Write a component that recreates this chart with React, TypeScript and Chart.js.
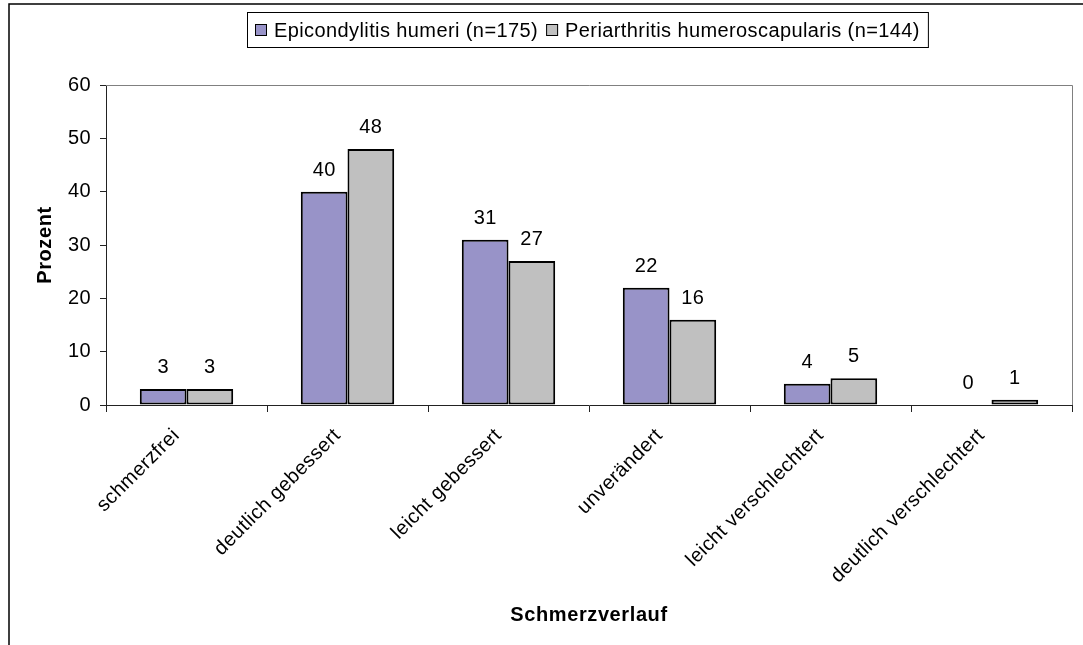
import React, { useEffect, useRef } from "react";
import { Chart, registerables } from "chart.js";

Chart.register(...registerables);

// ---- data ----
const categories = [
  "schmerzfrei",
  "deutlich gebessert",
  "leicht gebessert",
  "unverändert",
  "leicht verschlechtert",
  "deutlich verschlechtert",
];
const seriesNames = [
  "Epicondylitis humeri (n=175)",
  "Periarthritis humeroscapularis (n=144)",
];
const epicondylitis = [3, 40, 31, 22, 4, 0];
const periarthritis = [3, 48, 27, 16, 5, 1];
const yMin = 0;
const yMax = 60;
const yStep = 10;
const xTitle = "Schmerzverlauf";
const yTitle = "Prozent";

// ---- style ----
const FONT = 'Arial, "Liberation Sans", sans-serif';
const SPACING = "0.4px";
const FS = 20;
const COLORS = ["#9893c8", "#c0c0c0"];

const decor = {
  id: "decor",
  beforeUpdate(chart: any) {
    chart.ctx.letterSpacing = SPACING;
  },
  beforeDraw(chart: any) {
    const ctx = chart.ctx;
    ctx.letterSpacing = SPACING;
    ctx.save();
    ctx.fillStyle = "#ffffff";
    ctx.fillRect(0, 0, chart.width, chart.height);
    ctx.restore();
  },
  beforeDatasetsDraw(chart: any) {
    const ctx = chart.ctx;
    const a = chart.chartArea;
    ctx.save();
    ctx.strokeStyle = "#808080";
    ctx.lineWidth = 1;
    ctx.beginPath();
    ctx.moveTo(a.left, Math.round(a.top) + 0.5);
    ctx.lineTo(Math.round(a.right) + 0.5, Math.round(a.top) + 0.5);
    ctx.lineTo(Math.round(a.right) + 0.5, a.bottom);
    ctx.stroke();
    ctx.restore();
  },
  afterDatasetsDraw(chart: any) {
    const ctx = chart.ctx;
    ctx.save();
    ctx.letterSpacing = SPACING;
    ctx.font = `${FS}px ${FONT}`;
    ctx.fillStyle = "#000";
    ctx.textAlign = "center";
    ctx.textBaseline = "alphabetic";
    chart.data.datasets.forEach((ds: any, di: number) => {
      const meta = chart.getDatasetMeta(di);
      meta.data.forEach((bar: any, i: number) => {
        ctx.fillText(String(ds.data[i]), bar.x, bar.y - 16);
      });
    });
    ctx.restore();
  },
  afterDraw(chart: any) {
    const ctx = chart.ctx;
    const a = chart.chartArea;
    ctx.save();

    // legend
    ctx.letterSpacing = SPACING;
    ctx.font = `${FS}px ${FONT}`;
    const ds = chart.data.datasets;
    const widths = ds.map((d: any) => ctx.measureText(d.label).width);
    const pad = 8;
    const box = 12;
    const gap = 7;
    const itemGap = 8;
    let total = pad;
    widths.forEach((w: number, i: number) => {
      total += box + gap + w;
      if (i < widths.length - 1) total += itemGap;
    });
    total += pad;
    const cx = 587;
    const left = Math.round(cx - total / 2);
    const top = 12;
    const h = 35;
    ctx.strokeStyle = "#000";
    ctx.lineWidth = 1;
    ctx.strokeRect(left + 0.5, top + 0.5, total, h);
    let x = left + pad;
    const my = top + h / 2 + 0.5;
    ds.forEach((d: any, i: number) => {
      ctx.fillStyle = d.backgroundColor;
      ctx.fillRect(x, my - 6, box, box);
      ctx.strokeStyle = "#000";
      ctx.strokeRect(x + 0.5, my - 6 + 0.5, box - 1, box - 1);
      x += box + gap;
      ctx.fillStyle = "#000";
      ctx.textAlign = "left";
      ctx.textBaseline = "middle";
      ctx.fillText(d.label, x, my + 1);
      x += widths[i] + itemGap;
    });

    // titles
    ctx.letterSpacing = "0.6px";
    ctx.font = `bold 20px ${FONT}`;
    ctx.fillStyle = "#000";
    ctx.textAlign = "center";
    ctx.textBaseline = "middle";
    ctx.fillText(xTitle, (a.left + a.right) / 2, 615);
    ctx.save();
    ctx.translate(45, (a.top + a.bottom) / 2);
    ctx.rotate(-Math.PI / 2);
    ctx.fillText(yTitle, 0, 0);
    ctx.restore();

    // outer chart border
    ctx.strokeStyle = "#000";
    ctx.lineWidth = 1.5;
    ctx.strokeRect(9, 4, 3000, 3000);
    ctx.restore();
    ctx.letterSpacing = SPACING;
  },
};

export default function App() {
  const ref = useRef<HTMLCanvasElement | null>(null);
  useEffect(() => {
    if (!ref.current) return;
    const chart = new Chart(ref.current, {
      type: "bar",
      data: {
        labels: categories,
        datasets: [
          {
            label: seriesNames[0],
            data: epicondylitis,
            backgroundColor: COLORS[0],
            borderColor: "#000",
            borderWidth: 2,
            borderSkipped: false,
          },
          {
            label: seriesNames[1],
            data: periarthritis,
            backgroundColor: COLORS[1],
            borderColor: "#000",
            borderWidth: 2,
            borderSkipped: false,
          },
        ],
      },
      options: {
        responsive: false,
        animation: false,
        devicePixelRatio: 1,
        layout: { padding: { top: 85, right: 11, left: 0, bottom: 0 } },
        datasets: {
          bar: { categoryPercentage: 0.58, barPercentage: 1 },
        },
        plugins: {
          legend: { display: false },
          tooltip: { enabled: false },
        },
        scales: {
          x: {
            offset: true,
            grid: {
              offset: true,
              drawOnChartArea: false,
              tickLength: 7,
              color: "#222",
            },
            border: { display: true, color: "#222", width: 1 },
            ticks: {
              color: "#000",
              font: { family: FONT, size: FS },
              maxRotation: 45,
              minRotation: 45,
              autoSkip: false,
              padding: 12,
              labelOffset: -10,
            },
            afterFit(scale: any) {
              scale.height = 240;
            },
          },
          y: {
            min: yMin,
            max: yMax,
            grid: {
              drawOnChartArea: false,
              tickLength: 6,
              color: "#222",
            },
            border: { display: true, color: "#222", width: 1 },
            ticks: {
              stepSize: yStep,
              color: "#000",
              font: { family: FONT, size: FS },
              padding: 9,
            },
            afterFit(scale: any) {
              scale.width = 106;
            },
          },
        },
      },
      plugins: [decor],
    });
    return () => chart.destroy();
  }, []);

  return (
    <div style={{ position: "absolute", left: 0, top: 0, width: 1083, height: 645 }}>
      <canvas ref={ref} width={1083} height={645} style={{ display: "block" }} />
    </div>
  );
}
